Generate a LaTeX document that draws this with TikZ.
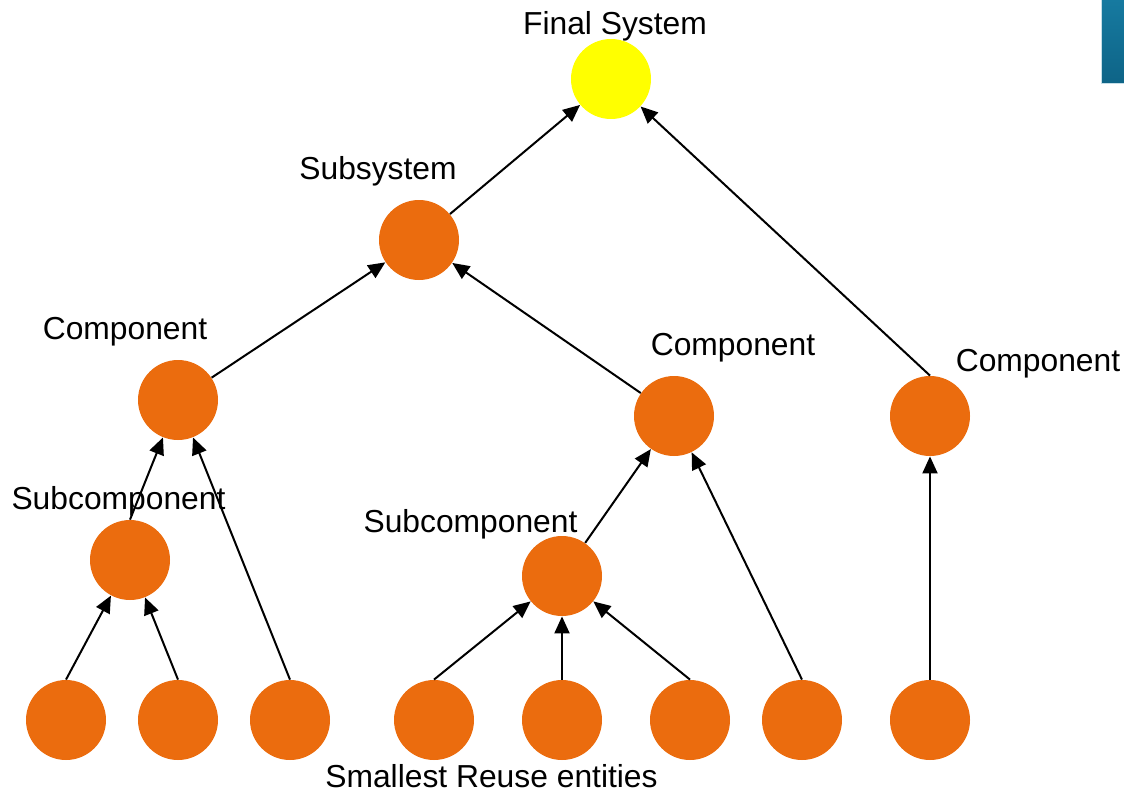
\documentclass[tikz,border=0pt]{standalone}
\usepackage{fontspec}
\setmainfont{Liberation Sans}
\usetikzlibrary{arrows.meta}
\definecolor{entity}{RGB}{235,108,14}
\definecolor{finalsys}{RGB}{255,255,0}
\definecolor{tabblue}{RGB}{22,122,160}
\definecolor{tabdark}{RGB}{14,100,135}
\begin{document}
\begin{tikzpicture}[x=0.5pt,y=-0.5pt,
  ent/.style={circle,fill=entity,minimum size=40pt,inner sep=0pt},
  fin/.style={circle,fill=finalsys,minimum size=40pt,inner sep=0pt},
  lbl/.style={anchor=base,inner sep=0pt,font=\fontsize{15.9}{19}\selectfont},
  link/.style={-{Triangle[length=8.5pt,width=7.5pt]},line width=1pt,black}]
\useasboundingbox (0,0) rectangle (1124,792);
% corner tab
\shade[top color=tabblue,bottom color=tabdark] (1101,0) rectangle (1124,83);
\draw[white!75!tabblue,line width=0.6pt] (1101.5,0) -- (1101.5,83.5) -- (1124,83.5);
% nodes
\node[fin] (final) at (611,79) {};
\node[ent] (sub) at (419,240) {};
\node[ent] (cL) at (178,400) {};
\node[ent] (cM) at (674,416) {};
\node[ent] (cR) at (930,416) {};
\node[ent] (scL) at (130,560) {};
\node[ent] (scM) at (562,576) {};
\node[ent] (b1) at (66,720) {};
\node[ent] (b2) at (178,720) {};
\node[ent] (b3) at (290,720) {};
\node[ent] (b4) at (434,720) {};
\node[ent] (b5) at (562,720) {};
\node[ent] (b6) at (690,720) {};
\node[ent] (b7) at (802,720) {};
\node[ent] (b8) at (930,720) {};
% labels
\node[lbl] (tFinal) at (615,35) {Final System};
\node[lbl] (tSub) at (378,179) {Subsystem};
\node[lbl] (tcL) at (125,339) {Component};
\node[lbl] (tcM) at (733,355) {Component};
\node[lbl] (tcR) at (1038,371) {Component};
\node[lbl] (tscL) at (118.5,509) {Subcomponent};
\node[lbl] (tscM) at (470.5,532) {Subcomponent};
\node[lbl] (tBot) at (491.5,787) {Smallest Reuse entities};
% connectors
\draw[link] (sub) -- (final);
\draw[link] (cR.north) -- (final);
\draw[link] (cL) -- (sub);
\draw[link] (cM) -- (sub);
\draw[link] (scL.north) -- (cL);
\draw[link] (b3.north) -- (cL);
\draw[link] (b1.north) -- (scL);
\draw[link] (b2.north) -- (scL);
\draw[link] (scM) -- (cM);
\draw[link] (b7.north) -- (cM);
\draw[link] (b4.north) -- (scM);
\draw[link] (b5.north) -- (scM);
\draw[link] (b6.north) -- (scM);
\draw[link] (b8.north) -- (cR);
\end{tikzpicture}
\end{document}
